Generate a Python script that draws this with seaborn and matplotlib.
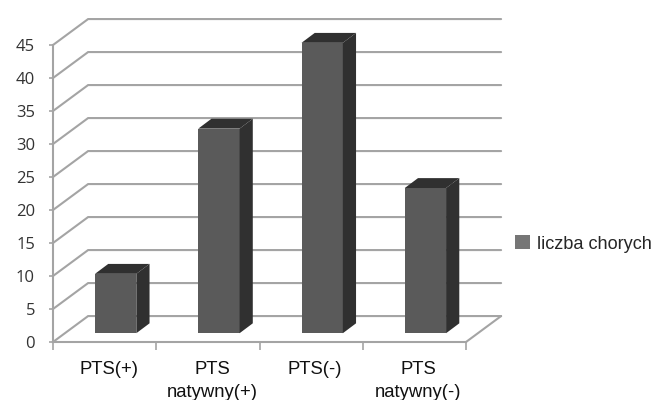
import matplotlib.pyplot as plt
import seaborn as sns
import pandas as pd
from matplotlib.patches import Patch, Polygon
from matplotlib.transforms import Affine2D

sns.set_style("white")
plt.rcParams['font.family'] = ['Liberation Sans', 'DejaVu Sans']

categories = ['PTS(+)', 'PTS\nnatywny(+)', 'PTS(-)', 'PTS\nnatywny(-)']
chorych = [9, 31, 44, 22]
y_ticks = [0, 5, 10, 15, 20, 25, 30, 35, 40, 45]
df = pd.DataFrame({'grupa': categories, 'liczba chorych': chorych})

GRID = '#a4a4a4'
FRONT = '#5a5a5a'
DARK = '#303030'

fig = plt.figure(figsize=(6.56, 4), dpi=100)
ax = fig.add_axes([53 / 656, 58 / 400, 413 / 656, 297 / 400])
ax.set_facecolor('none')

sns.barplot(data=df, x='grupa', y='liczba chorych', color=FRONT, saturation=1, width=0.4, ax=ax, zorder=3)
ax.set_xlim(-0.5, 3.5)
ax.set_ylim(0, 45)
ax.set_xlabel('')
ax.set_ylabel('')

# fake 3d: depth of the walls and of the bars, in data units
wall_dx, wall_dy = 0.34, 3.93
bar_ox, bar_oy = 0.107, 1.33
bar_dx, bar_dy = 0.128, 1.5

for v in y_ticks:
    ax.plot([-0.5, -0.5 + wall_dx, 3.5 + wall_dx], [v, v + wall_dy, v + wall_dy], color=GRID, lw=1.5,
            clip_on=False, zorder=1, solid_joinstyle='miter')
ax.plot([3.5, 3.5 + wall_dx], [0, wall_dy], color=GRID, lw=1.5, clip_on=False, zorder=1)

shift = Affine2D().translate(bar_ox, bar_oy) + ax.transData
for bar in list(ax.patches):
    bar.set_transform(shift)
    bar.set_edgecolor('none')
    bar.set_clip_on(False)
    x0 = bar.get_x()
    x1 = x0 + bar.get_width()
    h = bar.get_height()
    side = [(x1, 0), (x1 + bar_dx, bar_dy), (x1 + bar_dx, h + bar_dy), (x1, h)]
    top = [(x0, h), (x0 + bar_dx, h + bar_dy), (x1 + bar_dx, h + bar_dy), (x1, h)]
    ax.add_patch(Polygon(side, closed=True, fc=DARK, ec='none', transform=shift, zorder=3, clip_on=False))
    ax.add_patch(Polygon(top, closed=True, fc=DARK, ec='none', transform=shift, zorder=3, clip_on=False))

sns.despine(ax=ax, top=True, right=True)
for s in ['left', 'bottom']:
    ax.spines[s].set_color(GRID)
    ax.spines[s].set_linewidth(1.5)

ax.set_yticks(y_ticks, labels=[str(v) for v in y_ticks], fontfamily='Open Sans', fontsize=12)
ax.tick_params(axis='y', length=3, width=1.2, color=GRID, pad=10, labelcolor='#333333', left=True)

ax.set_xticks([-0.5, 0.5, 1.5, 2.5, 3.5], minor=True)
ax.tick_params(axis='x', which='minor', length=6, width=1.2, color=GRID, bottom=True)
ax.tick_params(axis='x', which='major', length=0, pad=14, labelsize=13.3, labelcolor='#111111')
for lab in ax.get_xticklabels():
    lab.set_linespacing(1.45)
    lab.set_transform(lab.get_transform() + Affine2D().translate(4, 0))

handle = Patch(fc='#767676', ec='none', label='liczba chorych')
fig.legend(handles=[handle], loc='center left', bbox_to_anchor=(510 / 656, 156 / 400), frameon=False,
           fontsize=13.1, handlelength=0.78, handleheight=0.78, handletextpad=0.4, borderpad=0, borderaxespad=0.3)

fig.savefig('out.png', dpi=100)
